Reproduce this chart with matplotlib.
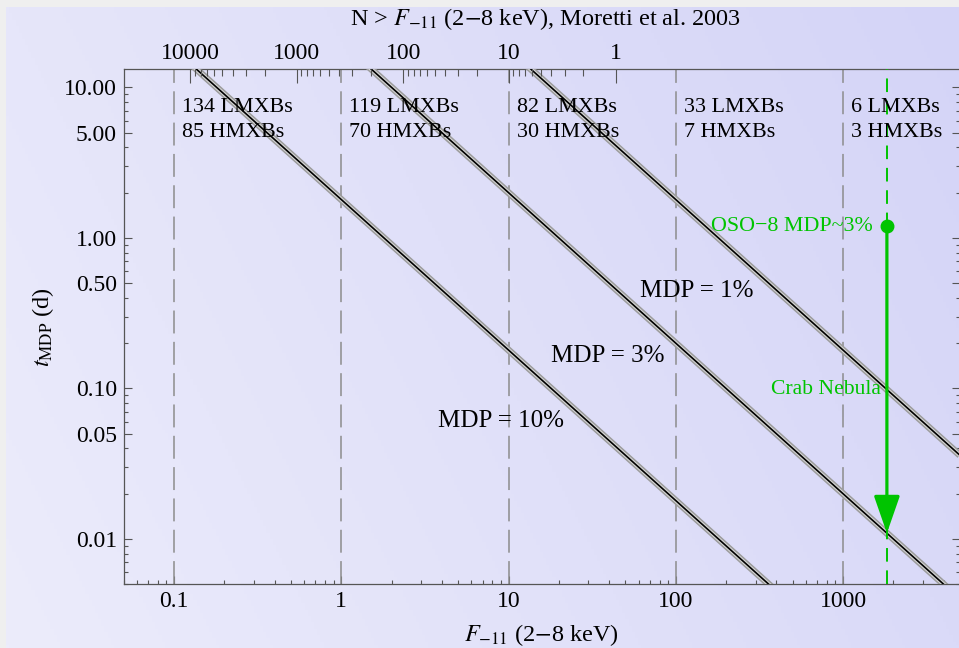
import numpy as np
import matplotlib.pyplot as plt
from matplotlib.ticker import FixedLocator, FixedFormatter, LogLocator, NullFormatter

plt.rcParams['font.family'] = ['Liberation Serif', 'DejaVu Serif']
plt.rcParams['mathtext.fontset'] = 'stix'

# MDP curves: t_MDP = t_unit / F  (t_unit = time in days at F = 1)
mdp_levels = [10, 3, 1]
mdp_t_unit = [1.8, 20.0, 180.0]

# number of sources brighter than each flux decade
count_flux = [0.1, 1, 10, 100, 1000]
lmxb_counts = [134, 119, 82, 33, 6]
hmxb_counts = [85, 70, 30, 7, 3]

# logN-logS (Moretti et al. 2003) for the top axis
top_counts = [10000, 1000, 100, 10, 1]
top_flux = [0.125, 0.54, 2.35, 10.0, 43.7]

# OSO-8 measurement of the Crab
crab_flux = 1830
oso8_time = 1.2
oso8_mdp = 3

x_ticks = [0.1, 1, 10, 100, 1000]
x_labels = ['0.1', '1', '10', '100', '1000']
y_ticks = [0.01, 0.05, 0.1, 0.5, 1, 5, 10]

green = '#00c400'
W, H = 959, 648

fig = plt.figure(figsize=(W / 100, H / 100), dpi=100)
fig.patch.set_facecolor('#efefef')

# lavender backdrop, lighter towards the lower left
bg = fig.add_axes([6 / W, 0, 1 - 6 / W, (H - 7) / H], zorder=-5)
gx, gy = np.meshgrid(np.linspace(0, 1, 300), np.linspace(0, 1, 200))
s = np.clip(0.75 * gx + 0.25 * gy, 0, 1)[..., None]
light = np.array([236, 236, 251]) / 255
dark = np.array([212, 212, 247]) / 255
bg.imshow(light + (dark - light) * s, aspect='auto', origin='lower',
          extent=[0, 1, 0, 1])
bg.axis('off')

ax = fig.add_axes([123.7 / W, (H - 584.3) / H, 836.2 / W, 515 / H])
ax.patch.set_alpha(0)
ax.set_xscale('log')
ax.set_yscale('log')
ax.set_xlim(0.05, 5000)
ax.set_ylim(0.005, 13.2)

flux = np.logspace(np.log10(0.05), np.log10(5000), 300)
for c in mdp_t_unit:
    t = c / flux
    ax.plot(flux, t, color='#9c9c9c', lw=5.0, solid_capstyle='butt', zorder=3)
    ax.plot(flux, t, color='#d6d6d6', lw=2.8, solid_capstyle='butt', zorder=3)
    ax.plot(flux, t, color='black', lw=1.2, zorder=3)

for f in count_flux:
    ax.axvline(f, color='#8c8c8c', lw=1.1, dashes=(15, 5.5), zorder=2)

mdp_label_pos = [(9.0, 0.061), (39.4, 0.164), (134, 0.442)]
for m, (lx, ly) in zip(mdp_levels, mdp_label_pos):
    ax.text(lx, ly, 'MDP = %d%%' % m, fontsize=18, ha='center', va='center', zorder=5)

for f, nl, nh in zip(count_flux, lmxb_counts, hmxb_counts):
    ax.annotate('%d LMXBs' % nl, xy=(f, 1), xycoords=('data', 'axes fraction'),
                xytext=(8, -38), textcoords='offset pixels',
                fontsize=15.8, ha='left', va='center', zorder=5)
    ax.annotate('%d HMXBs' % nh, xy=(f, 1), xycoords=('data', 'axes fraction'),
                xytext=(8, -63), textcoords='offset pixels',
                fontsize=15.8, ha='left', va='center', zorder=5)

# OSO-8 point, arrow down to the matching MDP curve
t_tip = mdp_t_unit[mdp_levels.index(oso8_mdp)] / crab_flux
ax.axvline(crab_flux, color=green, lw=1.4, dashes=(7, 4.5), zorder=4)
ax.annotate('', xy=(crab_flux, t_tip), xytext=(crab_flux, oso8_time),
            arrowprops=dict(arrowstyle='-|>,head_length=1.15,head_width=0.4',
                            mutation_scale=20, lw=2.3, color=green,
                            shrinkA=0, shrinkB=0), zorder=6)
ax.plot(crab_flux, oso8_time, 'o', ms=9, color=green, zorder=7)
ax.annotate('OSO\u22128 MDP~%d%%' % oso8_mdp, xy=(crab_flux, oso8_time),
            xytext=(-14, 0), textcoords='offset pixels', color=green,
            fontsize=15.8, ha='right', va='center', zorder=6)
ax.annotate('Crab Nebula', xy=(crab_flux, mdp_t_unit[-1] / crab_flux),
            xytext=(-6, 0), textcoords='offset pixels', color=green,
            fontsize=15.6, ha='right', va='center', zorder=6)

# axes styling
ax.xaxis.set_major_locator(FixedLocator(x_ticks))
ax.xaxis.set_major_formatter(FixedFormatter(x_labels))
ax.xaxis.set_minor_locator(LogLocator(base=10, subs=np.arange(2, 10), numticks=20))
ax.xaxis.set_minor_formatter(NullFormatter())
ax.yaxis.set_major_locator(FixedLocator(y_ticks))
ax.yaxis.set_major_formatter(FixedFormatter(['%.2f' % v for v in y_ticks]))
ax.yaxis.set_minor_locator(LogLocator(base=10, subs=np.arange(2, 10), numticks=20))
ax.yaxis.set_minor_formatter(NullFormatter())
ax.tick_params(which='both', direction='in', top=False, right=True,
               labelright=False, color='#555555', width=0.8,
               labelsize=17, pad=5)
ax.tick_params(which='major', length=5.5)
ax.tick_params(which='minor', length=2.8)
for sp in ax.spines.values():
    sp.set_color('#555555')
    sp.set_linewidth(0.9)

# top axis: source counts N(>F)
ax2 = ax.twiny()
ax2.set_xscale('log')
ax2.set_xlim(ax.get_xlim())
ax2.set_xticks(top_flux)
ax2.set_xticklabels([str(n) for n in top_counts])
minor_top = []
for i in range(len(top_counts) - 1):
    n0, n1 = np.log10(top_counts[i]), np.log10(top_counts[i + 1])
    f0, f1 = np.log10(top_flux[i]), np.log10(top_flux[i + 1])
    for k in range(2, 10):
        frac = (n0 - np.log10(k * top_counts[i + 1])) / (n0 - n1)
        minor_top.append(10 ** (f0 + frac * (f1 - f0)))
ax2.set_xticks(minor_top, minor=True)
ax2.xaxis.set_minor_formatter(NullFormatter())
ax2.tick_params(which='both', direction='in', color='#555555', width=0.8,
                labelsize=17, pad=4)
ax2.tick_params(which='major', length=10)
ax2.tick_params(which='minor', length=5)
for sp in ax2.spines.values():
    sp.set_visible(False)

fig.text(545 / W, 1 - 19 / H, r'N > $F_{-11}$ (2$-$8 keV), Moretti et al. 2003',
         fontsize=17.5, ha='center', va='center')
fig.text(541.8 / W, 1 - 635 / H, r'$F_{-11}$ (2$-$8 keV)',
         fontsize=17.5, ha='center', va='center')
fig.text(43 / W, 1 - 327 / H, r'$t_{\mathrm{MDP}}$ (d)',
         fontsize=17.5, ha='center', va='center', rotation=90)

fig.savefig('out.png', dpi=100, facecolor=fig.get_facecolor())
